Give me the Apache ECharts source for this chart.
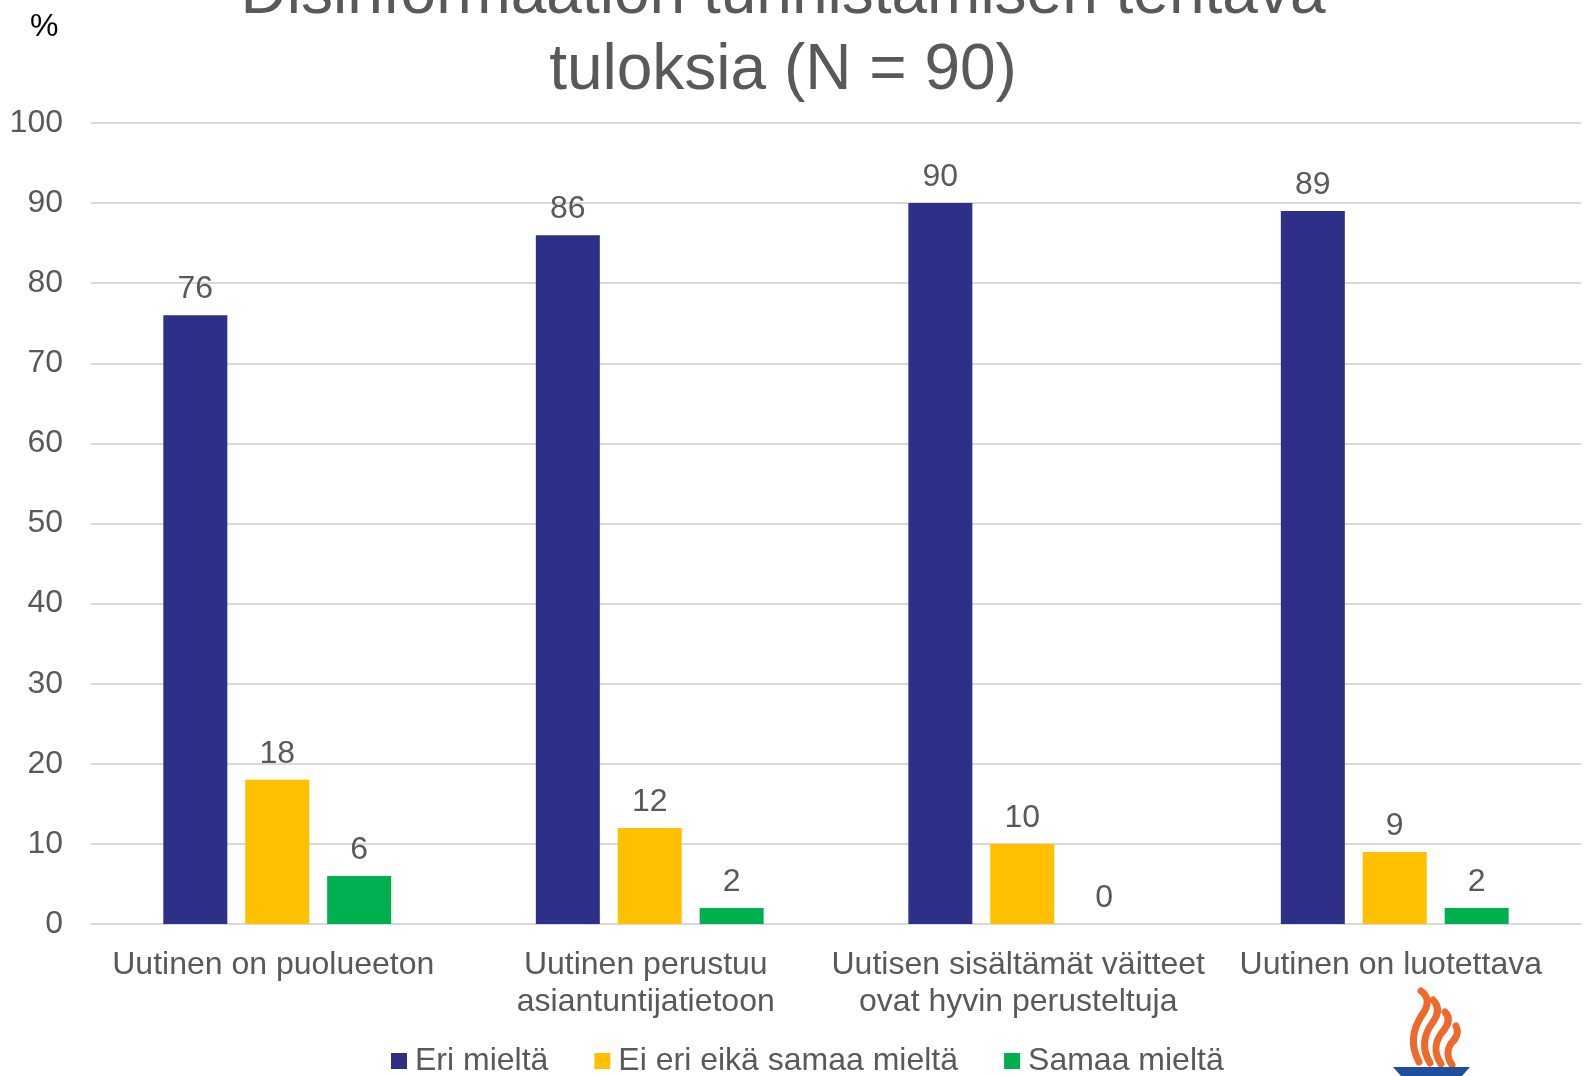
<!DOCTYPE html>
<html>
<head>
<meta charset="utf-8">
<script src="https://cdn.jsdelivr.net/npm/echarts@6/dist/echarts.min.js"></script>
<style>
  html, body { margin: 0; padding: 0; background: #fff; }
  #container { width: 1589px; height: 1076px; }
</style>
</head>
<body>
<div id="container"></div>
<script>
// kategoriat ja sarjat
const categories = [
  'Uutinen on puolueeton',
  'Uutinen perustuu\nasiantuntijatietoon',
  'Uutisen sisältämät väitteet\novat hyvin perusteltuja',
  'Uutinen on luotettava'
];
const eriMielta = [76, 86, 90, 89];
const eiEriEikaSamaa = [18, 12, 10, 9];
const samaaMielta = [6, 2, 0, 2];
const yTicks = { min: 0, max: 100, interval: 10 };

const fontFam = '"Liberation Sans", Arial, sans-serif';
const grey = '#595959';

let chart = echarts.init(document.getElementById('container'));

const labelStyle = {
  show: true,
  position: 'top',
  distance: 10,
  fontSize: 32,
  color: grey,
  fontFamily: fontFam
};

// logo (liekki), kaksi bezier-palaa per liekki
const flame = '#EE6A2C';
const flameSegs = [
  [1419, 1062, 1410, 1045, 1412, 1030, 1422, 1015],
  [1422, 1015, 1430, 1004, 1428, 996, 1421, 991],
  [1430, 1063, 1421, 1048, 1424, 1034, 1433, 1022],
  [1433, 1022, 1440, 1012, 1438, 1005, 1433, 1000],
  [1441, 1064, 1433, 1052, 1435, 1040, 1444, 1030],
  [1444, 1030, 1450, 1022, 1449, 1016, 1445, 1012],
  [1452, 1065, 1446, 1056, 1447, 1047, 1454, 1040],
  [1454, 1040, 1458, 1035, 1458, 1030, 1456, 1026]
];

chart.setOption({
  animation: false,
  title: {
    text: 'Disinformaation tunnistamisen tehtävä\ntuloksia (N = 90)',
    left: 783,
    textAlign: 'center',
    top: -43,
    padding: 0,
    textStyle: {
      fontSize: 64,
      fontWeight: 'normal',
      color: grey,
      fontFamily: fontFam,
      lineHeight: 76
    }
  },
  legend: {
    data: ['Eri mieltä', 'Ei eri eikä samaa mieltä', 'Samaa mieltä'],
    left: 386,
    top: 1040,
    icon: 'rect',
    itemWidth: 16,
    itemHeight: 16,
    itemGap: 46,
    textStyle: { fontSize: 32, color: grey, fontFamily: fontFam, padding: [0, 0, 0, 3] }
  },
  grid: {
    left: 91,
    right: 8,
    top: 123,
    bottom: 152,
    containLabel: false
  },
  xAxis: {
    type: 'category',
    data: categories,
    axisLine: { show: true, lineStyle: { color: '#D9D9D9', width: 2 } },
    axisTick: { show: false },
    axisLabel: {
      interval: 0,
      margin: 23,
      fontSize: 32,
      lineHeight: 37,
      color: grey,
      fontFamily: fontFam,
      padding: [0, 8, 0, 0]
    }
  },
  yAxis: {
    type: 'value',
    min: yTicks.min,
    max: yTicks.max,
    interval: yTicks.interval,
    axisLine: { show: false },
    axisTick: { show: false },
    splitLine: { lineStyle: { color: '#D9D9D9', width: 2 } },
    axisLabel: {
      margin: 28,
      fontSize: 32,
      color: grey,
      fontFamily: fontFam,
      padding: [4, 0, 0, 0]
    }
  },
  series: [
    {
      name: 'Eri mieltä',
      type: 'bar',
      data: eriMielta,
      barWidth: 64,
      barGap: '28%',
      itemStyle: { color: '#2E3087' },
      label: labelStyle
    },
    {
      name: 'Ei eri eikä samaa mieltä',
      type: 'bar',
      data: eiEriEikaSamaa,
      barWidth: 64,
      itemStyle: { color: '#FFC000' },
      label: labelStyle
    },
    {
      name: 'Samaa mieltä',
      type: 'bar',
      data: samaaMielta,
      barWidth: 64,
      itemStyle: { color: '#00B050' },
      label: labelStyle
    }
  ],
  graphic: [
    {
      type: 'text',
      left: 30,
      top: 11,
      style: { text: '%', fontSize: 32, fill: '#000', fontFamily: fontFam }
    },
    ...flameSegs.map(s => ({
      type: 'bezierCurve',
      shape: { x1: s[0], y1: s[1], cpx1: s[2], cpy1: s[3], cpx2: s[4], cpy2: s[5], x2: s[6], y2: s[7] },
      style: { fill: null, stroke: flame, lineWidth: 7, lineCap: 'round' }
    })),
    {
      type: 'polygon',
      shape: { points: [[1393, 1067], [1470, 1067], [1462, 1076], [1401, 1076]] },
      style: { fill: '#1F4E9E' }
    }
  ]
});
</script>
</body>
</html>
